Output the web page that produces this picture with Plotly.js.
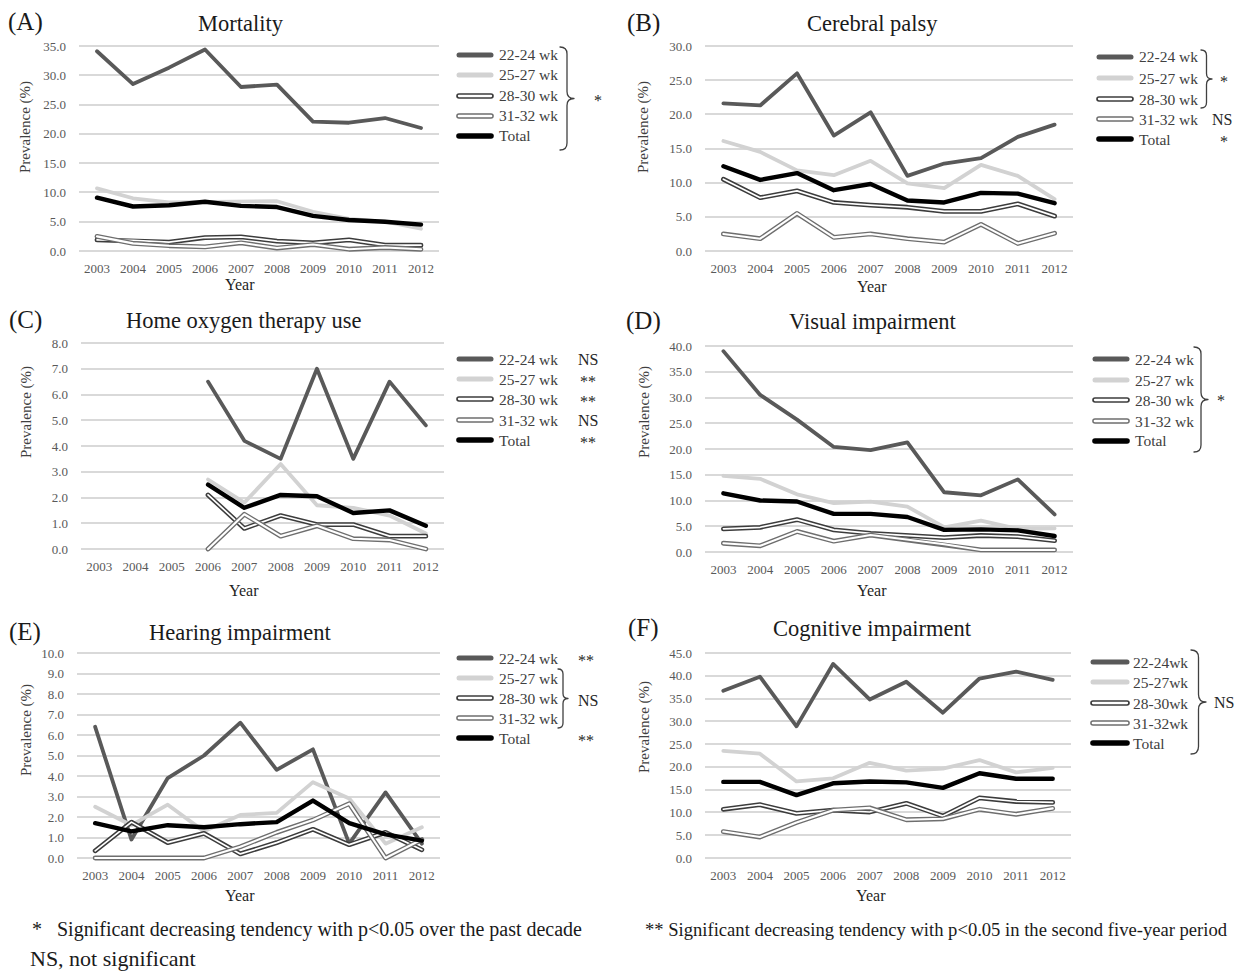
<!DOCTYPE html>
<html><head><meta charset="utf-8">
<script src="https://cdn.plot.ly/plotly-3.0.1.min.js"></script>
<style>
html,body{margin:0;padding:0;background:#fff}
.js-line{stroke-linejoin:round;stroke-linecap:round}
.shapelayer path{stroke-linecap:round;stroke-linejoin:round}
</style>
</head><body>
<div id="chart" style="width:1242px;height:971px"></div>
<script>
// ---------------- DATA ----------------
const years = ['2003','2004','2005','2006','2007','2008','2009','2010','2011','2012'];
const groupLabels = ['22-24 wk','25-27 wk','28-30 wk','31-32 wk','Total'];
const groupLabelsF = ['22-24wk','25-27wk','28-30wk','31-32wk','Total'];

// (A) Mortality
const mortality_22_24 = [34.1, 28.5, 31.3, 34.4, 28.0, 28.4, 22.1, 21.9, 22.7, 21.0];
const mortality_25_27 = [10.7, 9.0, 8.3, 8.4, 8.4, 8.5, 6.7, 5.5, 5.0, 3.8];
const mortality_28_30 = [1.9, 1.8, 1.5, 2.3, 2.4, 1.7, 1.4, 1.9, 1.0, 1.0];
const mortality_31_32 = [2.5, 1.3, 0.9, 0.7, 1.4, 0.5, 1.1, 0.3, 0.6, 0.3];
const mortality_total = [9.1, 7.6, 7.8, 8.4, 7.7, 7.5, 6.0, 5.3, 5.0, 4.5];

// (B) Cerebral palsy
const cp_22_24 = [21.6, 21.3, 26.0, 16.9, 20.3, 11.0, 12.8, 13.6, 16.7, 18.5];
const cp_25_27 = [16.1, 14.5, 11.8, 11.1, 13.2, 9.9, 9.2, 12.6, 11.0, 7.6];
const cp_28_30 = [10.5, 7.8, 8.8, 7.1, 6.7, 6.4, 5.8, 5.8, 6.9, 5.1];
const cp_31_32 = [2.5, 1.8, 5.5, 2.0, 2.5, 1.8, 1.3, 3.9, 1.1, 2.6];
const cp_total = [12.4, 10.4, 11.4, 8.9, 9.8, 7.4, 7.1, 8.5, 8.4, 7.0];

// (C) Home oxygen therapy use
const hot_22_24 = [null, null, null, 6.5, 4.2, 3.5, 7.0, 3.5, 6.5, 4.8];
const hot_25_27 = [null, null, null, 2.7, 1.8, 3.3, 1.7, 1.6, 1.3, 0.6];
const hot_28_30 = [null, null, null, 2.1, 0.8, 1.3, 0.95, 0.95, 0.5, 0.5];
const hot_31_32 = [null, null, null, 0.0, 1.35, 0.5, 0.9, 0.4, 0.35, 0.0];
const hot_total = [null, null, null, 2.5, 1.6, 2.1, 2.05, 1.4, 1.5, 0.9];

// (D) Visual impairment
const visual_22_24 = [39.0, 30.5, 25.7, 20.4, 19.8, 21.3, 11.6, 11.0, 14.1, 7.3];
const visual_25_27 = [14.8, 14.2, 11.2, 9.5, 9.8, 8.8, 4.8, 6.1, 4.5, 4.6];
const visual_28_30 = [4.5, 4.8, 6.3, 4.3, 3.6, 3.2, 2.8, 3.2, 3.0, 2.2];
const visual_31_32 = [1.7, 1.2, 4.0, 2.1, 3.3, 2.4, 1.5, 0.4, 0.4, 0.4];
const visual_total = [11.4, 10.0, 9.8, 7.4, 7.4, 6.8, 4.3, 4.4, 4.2, 3.1];

// (E) Hearing impairment
const hearing_22_24 = [6.4, 0.9, 3.9, 5.0, 6.6, 4.3, 5.3, 0.7, 3.2, 0.7];
const hearing_25_27 = [2.5, 1.6, 2.6, 1.3, 2.1, 2.2, 3.7, 2.9, 0.7, 1.5];
const hearing_28_30 = [0.35, 1.75, 0.75, 1.2, 0.2, 0.75, 1.4, 0.65, 1.25, 0.4];
const hearing_31_32 = [0.0, 0.0, 0.0, 0.0, 0.55, 1.25, 1.85, 2.65, 0.0, 0.9];
const hearing_total = [1.7, 1.3, 1.6, 1.5, 1.65, 1.75, 2.8, 1.7, 1.15, 0.85];

// (F) Cognitive impairment
const cognitive_22_24 = [36.7, 39.8, 28.9, 42.6, 34.8, 38.7, 31.9, 39.4, 40.9, 39.1];
const cognitive_25_27 = [23.5, 22.9, 16.8, 17.5, 20.9, 19.2, 19.6, 21.5, 18.8, 19.8];
const cognitive_28_30 = [10.7, 11.7, 9.8, 10.5, 10.1, 12.0, 9.2, 13.2, 12.4, 12.2];
const cognitive_31_32 = [5.8, 4.6, 7.8, 10.5, 11.0, 8.4, 8.6, 10.7, 9.6, 10.9];
const cognitive_total = [16.7, 16.7, 13.8, 16.4, 16.8, 16.6, 15.4, 18.6, 17.4, 17.4];

const panelTitles = ['Mortality','Cerebral palsy','Home oxygen therapy use','Visual impairment','Hearing impairment','Cognitive impairment'];
const panelLetters = ['(A)','(B)','(C)','(D)','(E)','(F)'];
const yMax = [35, 30, 8, 40, 10, 45];
const yStep = [5, 5, 1, 5, 1, 5];

// ---------------- LAYOUT HELPERS ----------------
const W = 1242, H = 971;
const FONT = '"Liberation Serif", "Times New Roman", serif';
const px = x => x / W;
const py = y => 1 - y / H;

const styles = [
  {color:'#595959', width:3.8},
  {color:'#d2d2d2', width:3.8},
  {double:true, outer:'#3c3c3c', width:4.8, innerWidth:1.7},
  {double:true, outer:'#6e6e6e', width:4.8, innerWidth:2.1},
  {color:'#000000', width:4.4}
];

const panels = [
  {series:[mortality_22_24,mortality_25_27,mortality_28_30,mortality_31_32,mortality_total], labels:groupLabels,
   gx:[79,439], gy:[46,251], lab:[25,22], tit:[241,23], yr:[240,285], prev:[26,127],
   leg:{lx:[459,491], tx:497, ys:[55,75,96,116,136]}, braces:[{x:560,y0:47,y1:150,w:14}],
   marks:[{t:'*',x:598,y:100}]},
  {series:[cp_22_24,cp_25_27,cp_28_30,cp_31_32,cp_total], labels:groupLabels,
   gx:[705,1073], gy:[46,251], lab:[643,23], tit:[872,23], yr:[872,287], prev:[644,127],
   leg:{lx:[1099,1131], tx:1137, ys:[57,78,99,119,139]}, braces:[{x:1201,y0:50,y1:108,w:11}],
   marks:[{t:'*',x:1224,y:81},{t:'NS',x:1222,y:119},{t:'*',x:1224,y:141}]},
  {series:[hot_22_24,hot_25_27,hot_28_30,hot_31_32,hot_total], labels:groupLabels,
   gx:[81,444], gy:[343,549], lab:[25,320], tit:[244,320], yr:[244,590], prev:[26,412],
   leg:{lx:[459,491], tx:497, ys:[359,379,399,420,440]}, braces:[],
   marks:[{t:'NS',x:588,y:359},{t:'**',x:588,y:381},{t:'**',x:588,y:401},{t:'NS',x:588,y:420},{t:'**',x:588,y:442}]},
  {series:[visual_22_24,visual_25_27,visual_28_30,visual_31_32,visual_total], labels:groupLabels,
   gx:[705,1073], gy:[346,552], lab:[643,321], tit:[872,321], yr:[872,590], prev:[644,412],
   leg:{lx:[1095,1127], tx:1133, ys:[359,380,400,421,441]}, braces:[{x:1194,y0:347,y1:452,w:14}],
   marks:[{t:'*',x:1221,y:400}]},
  {series:[hearing_22_24,hearing_25_27,hearing_28_30,hearing_31_32,hearing_total], labels:groupLabels,
   gx:[77,440], gy:[653,858], lab:[25,632], tit:[240,632], yr:[240,895], prev:[26,730],
   leg:{lx:[459,491], tx:497, ys:[658,678,698,718,738]}, braces:[{x:558,y0:669,y1:728,w:10}],
   marks:[{t:'**',x:586,y:660},{t:'NS',x:588,y:700},{t:'**',x:586,y:740}]},
  {series:[cognitive_22_24,cognitive_25_27,cognitive_28_30,cognitive_31_32,cognitive_total], labels:groupLabelsF,
   gx:[705,1071], gy:[653,858], lab:[643,628], tit:[872,628], yr:[871,895], prev:[644,727],
   leg:{lx:[1093,1127], tx:1131, ys:[662,682,703,723,743]}, braces:[{x:1191,y0:650,y1:754,w:15}],
   marks:[{t:'NS',x:1224,y:702}]}
];

const traces = [];
const shapes = [];
const annotations = [];
const layout = {
  width: W, height: H,
  margin: {l:0, r:0, t:0, b:0},
  paper_bgcolor: '#ffffff', plot_bgcolor: '#ffffff',
  showlegend: false,
  font: {family: FONT, color: '#404040'}
};

function ann(text, x, y, size, opts) {
  annotations.push(Object.assign({
    text: text, x: px(x), y: py(y), xref: 'paper', yref: 'paper',
    showarrow: false, xanchor: 'center', yanchor: 'middle',
    font: {family: FONT, size: size, color: '#262626'}
  }, opts || {}));
}

function bracePath(b) {
  const xm = b.x + b.w / 2, xt = b.x + b.w, ym = (b.y0 + b.y1) / 2, r = b.w / 2;
  const P = (x, y) => px(x).toFixed(5) + ',' + py(y).toFixed(5);
  return 'M' + P(b.x, b.y0) + ' Q' + P(xm, b.y0) + ' ' + P(xm, b.y0 + r) +
         ' L' + P(xm, ym - r) + ' Q' + P(xm, ym) + ' ' + P(xt, ym) +
         ' Q' + P(xm, ym) + ' ' + P(xm, ym + r) +
         ' L' + P(xm, b.y1 - r) + ' Q' + P(xm, b.y1) + ' ' + P(b.x, b.y1);
}

panels.forEach((p, i) => {
  const n = i + 1;
  const xa = n === 1 ? 'x' : 'x' + n;
  const ya = n === 1 ? 'y' : 'y' + n;
  const vmax = yMax[i];
  const pad = 6;
  const s = (p.gy[1] - p.gy[0]) / vmax;
  layout[n === 1 ? 'xaxis' : 'xaxis' + n] = {
    domain: [px(p.gx[0]), px(p.gx[1])], anchor: ya,
    type: 'category', range: [-0.5, 9.5], fixedrange: true,
    showgrid: false, showline: false, zeroline: false, ticks: '',
    tickfont: {family: FONT, size: 13, color: '#595959'},
    ticklabelstandoff: 2
  };
  layout[n === 1 ? 'yaxis' : 'yaxis' + n] = {
    domain: [py(p.gy[1] + pad), py(p.gy[0] - pad)], anchor: xa,
    range: [-pad / s, vmax + pad / s], fixedrange: true,
    tick0: 0, dtick: yStep[i], tickformat: '.1f',
    showgrid: true, gridcolor: '#d9d9d9', gridwidth: 2,
    zeroline: false, showline: false, ticks: '',
    tickfont: {family: FONT, size: 13, color: '#595959'},
    ticklabelstandoff: 12
  };

  p.series.forEach((vals, k) => {
    const st = styles[k];
    const name = p.labels[k];
    if (st.double) {
      traces.push({type:'scatter', mode:'lines', x: years, y: vals, xaxis: xa, yaxis: ya, name: name,
                   line:{color: st.outer, width: st.width}, hoverinfo:'x+y+name'});
      traces.push({type:'scatter', mode:'lines', x: years, y: vals, xaxis: xa, yaxis: ya, name: name,
                   line:{color: '#ffffff', width: st.innerWidth}, hoverinfo:'skip'});
    } else {
      traces.push({type:'scatter', mode:'lines', x: years, y: vals, xaxis: xa, yaxis: ya, name: name,
                   line:{color: st.color, width: st.width}, hoverinfo:'x+y+name'});
    }
    // legend sample
    const ly = p.leg.ys[k];
    const seg = {type:'line', xref:'paper', yref:'paper', x0: px(p.leg.lx[0]), x1: px(p.leg.lx[1]), y0: py(ly), y1: py(ly)};
    if (st.double) {
      shapes.push(Object.assign({}, seg, {line:{color: st.outer, width: st.width + 0.8}}));
      shapes.push(Object.assign({}, seg, {line:{color: '#ffffff', width: st.innerWidth + 0.6}}));
    } else {
      shapes.push(Object.assign({}, seg, {line:{color: st.color, width: st.width + 1.2}}));
    }
    ann(name, p.leg.tx, ly, 15.5, {xanchor:'left', font:{family: FONT, size: 15.5, color:'#404040'}});
  });

  p.braces.forEach(b => {
    shapes.push({type:'path', xref:'paper', yref:'paper', path: bracePath(b),
                 line:{color:'#404040', width:1.3}, fillcolor:'rgba(0,0,0,0)'});
  });
  p.marks.forEach(m => ann(m.t, m.x, m.y, 16, {font:{family: FONT, size: 16, color:'#262626'}}));

  ann(panelLetters[i], p.lab[0], p.lab[1], 25, {font:{family: FONT, size: 25, color:'#1a1a1a'}});
  ann(panelTitles[i], p.tit[0], p.tit[1], 22.5, {font:{family: FONT, size: 22.5, color:'#1a1a1a'}});
  ann('Year', p.yr[0], p.yr[1], 16, {font:{family: FONT, size: 16, color:'#1f1f1f'}});
  ann('Prevalence (%)', p.prev[0], p.prev[1], 15, {textangle: -90, font:{family: FONT, size: 15, color:'#404040'}});
});

// footnotes
ann('*&nbsp;&nbsp; Significant decreasing tendency with p&lt;0.05 over the past decade', 30, 929, 20,
    {xanchor:'left', font:{family: FONT, size: 20, color:'#1a1a1a'}});
ann('** Significant decreasing tendency with p&lt;0.05 in the second five-year period', 643, 929, 18.6,
    {xanchor:'left', font:{family: FONT, size: 18.6, color:'#1a1a1a'}});
ann('NS, not significant', 28, 958, 22,
    {xanchor:'left', font:{family: FONT, size: 22, color:'#1a1a1a'}});

layout.shapes = shapes;
layout.annotations = annotations;

Plotly.newPlot('chart', traces, layout, {displayModeBar: false, staticPlot: true});
</script>
</body></html>
